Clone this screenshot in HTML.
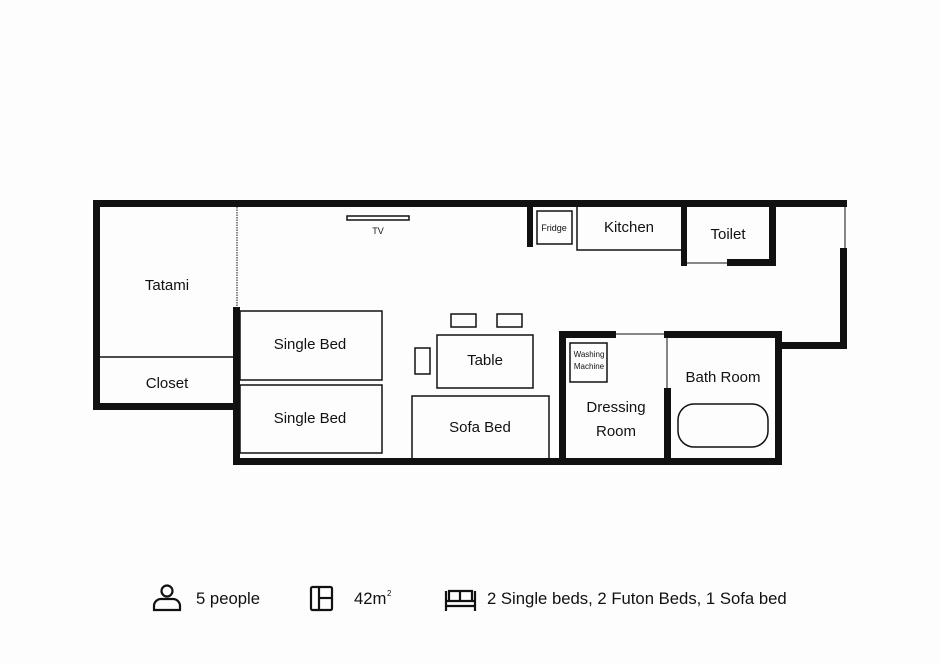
<!DOCTYPE html>
<html><head><meta charset="utf-8"><style>
body{margin:0;background:#fdfdfd}
svg{display:block}
text{font-family:"Liberation Sans",sans-serif;fill:#111}
</style></head><body>
<svg width="940" height="665" viewBox="0 0 940 665" xmlns="http://www.w3.org/2000/svg">
<rect width="940" height="665" fill="#fdfdfd"/>
<g fill="#111">
<rect x="93" y="200" width="754" height="7"/>
<rect x="93" y="200" width="7" height="210"/>
<rect x="93" y="403" width="147" height="7"/>
<rect x="233" y="307" width="7" height="158"/>
<rect x="233" y="458" width="549" height="7"/>
<rect x="775" y="331" width="7" height="134"/>
<rect x="664" y="331" width="118" height="7"/>
<rect x="775" y="342" width="72" height="7"/>
<rect x="840" y="248" width="7" height="101"/>
<rect x="559" y="331" width="7" height="134"/>
<rect x="559" y="331" width="57" height="7"/>
<rect x="664" y="388" width="7" height="77"/>
<rect x="527" y="207" width="6" height="40"/>
<rect x="681" y="207" width="6" height="59"/>
<rect x="769" y="207" width="7" height="59"/>
<rect x="727" y="259" width="49" height="7"/>
</g>
<g fill="none" stroke="#111" stroke-width="1.5">
<line x1="845" y1="207" x2="845" y2="248" stroke-width="1"/>
<line x1="616" y1="334" x2="667" y2="334" stroke-width="1"/>
<line x1="667" y1="334" x2="667" y2="388" stroke-width="1"/>
<line x1="687" y1="263" x2="727" y2="263" stroke-width="1"/>
<line x1="237" y1="207" x2="237" y2="307" stroke-width="1" stroke-dasharray="1.5,1"/>
<line x1="100" y1="357" x2="233" y2="357"/>
<rect x="537" y="211" width="35" height="33"/>
<polyline points="577,207 577,250 681,250"/>
<rect x="240" y="311" width="142" height="69"/>
<rect x="240" y="385" width="142" height="68"/>
<polyline points="412,458 412,396 549,396 549,458"/>
<rect x="437" y="335" width="96" height="53"/>
<rect x="451" y="314" width="25" height="13"/>
<rect x="497" y="314" width="25" height="13"/>
<rect x="415" y="348" width="15" height="26"/>
<rect x="347" y="216" width="62" height="4"/>
<rect x="570" y="343" width="37" height="39"/>
<rect x="678" y="404" width="90" height="43" rx="16"/>
</g>
<text x="167" y="290" font-size="15" text-anchor="middle">Tatami</text>
<text x="167" y="388" font-size="15" text-anchor="middle">Closet</text>
<text x="378" y="234" font-size="9" text-anchor="middle">TV</text>
<text x="310" y="349" font-size="15" text-anchor="middle">Single Bed</text>
<text x="310" y="423" font-size="15" text-anchor="middle">Single Bed</text>
<text x="485" y="365" font-size="15" text-anchor="middle">Table</text>
<text x="480" y="432" font-size="15" text-anchor="middle">Sofa Bed</text>
<text x="554" y="231" font-size="9" text-anchor="middle">Fridge</text>
<text x="629" y="232" font-size="15" text-anchor="middle">Kitchen</text>
<text x="728" y="239" font-size="15" text-anchor="middle">Toilet</text>
<text x="589" y="357" font-size="8" text-anchor="middle">Washing</text>
<text x="589" y="369" font-size="8" text-anchor="middle">Machine</text>
<text x="616" y="412" font-size="15" text-anchor="middle">Dressing</text>
<text x="616" y="436" font-size="15" text-anchor="middle">Room</text>
<text x="723" y="382" font-size="15" text-anchor="middle">Bath Room</text>
<g fill="none" stroke="#111" stroke-width="2.2">
<circle cx="167" cy="591" r="5.5"/>
<path d="M154,610 v-4 a7,7 0 0 1 7,-7 h12 a7,7 0 0 1 7,7 v4 z"/>
<rect x="311" y="587" width="21" height="23" rx="1.5"/>
<line x1="319" y1="587" x2="319" y2="610"/>
<line x1="319" y1="598" x2="332" y2="598"/>
<path d="M446,611 v-20 M475,611 v-20 M446,601 h29 M446,606 h29 M449,601 v-10 h23 v10"/>
<line x1="460" y1="591" x2="460" y2="601"/>
</g>
<text x="196" y="604" font-size="16.7">5 people</text>
<text x="354" y="604" font-size="16.7">42m</text>
<text x="387" y="596" font-size="8">2</text>
<text x="487" y="604" font-size="16.7">2 Single beds, 2 Futon Beds, 1 Sofa bed</text>
</svg>
</body></html>
